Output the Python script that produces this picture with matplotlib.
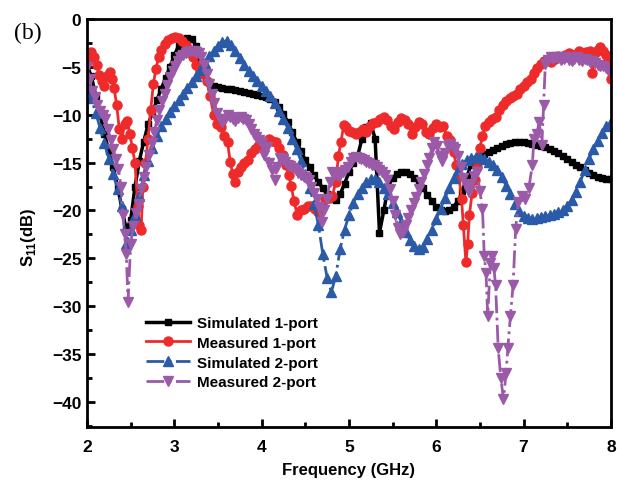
import numpy as np
import matplotlib
matplotlib.use("Agg")
import matplotlib.pyplot as plt

plt.rcParams['font.family'] = ['Liberation Sans', 'DejaVu Sans']
plt.rcParams['mathtext.fontset'] = 'custom'
plt.rcParams['mathtext.rm'] = 'Liberation Sans:bold'
plt.rcParams['mathtext.bf'] = 'Liberation Sans:bold'

# simulated curves on a 0.05 GHz grid
sim_f = np.round(np.arange(2.0, 8.0001, 0.05), 2)

sim1_db = [
    -4.8, -6.0, -8.0, -10.0, -12.0, -13.8, -15.5, -17.5, -19.8, -22.0,
    -21.0, -17.5, -14.8, -12.8, -11.0, -9.8, -8.5, -7.3, -6.2, -5.0,
    -3.8, -2.8, -2.2, -2.0, -2.1, -2.8, -4.5, -5.8, -6.6, -7.0,
    -7.1, -7.2, -7.3, -7.3, -7.4, -7.5, -7.6, -7.7, -7.8, -7.9,
    -8.0, -8.2, -8.4, -8.7, -9.2, -9.9, -10.8, -11.8, -12.8, -13.8,
    -14.7, -15.5, -16.3, -17.0, -17.7, -18.3, -18.8, -18.9, -18.3, -17.2,
    -16.0, -15.0, -14.3, -12.5, -11.3, -10.9, -12.5, -22.3, -20.0, -17.5,
    -16.6, -16.2, -16.0, -16.0, -16.2, -16.6, -17.1, -17.7, -18.4, -19.0,
    -19.6, -19.9, -20.1, -20.0, -19.6, -19.0, -18.0, -16.5, -15.2, -14.6,
    -14.3, -14.1, -13.9, -13.7, -13.5, -13.3, -13.1, -13.0, -12.9, -12.9,
    -12.9, -13.0, -13.1, -13.2, -13.3, -13.4, -13.6, -13.8, -14.0, -14.3,
    -14.6, -14.9, -15.2, -15.5, -15.8, -16.1, -16.3, -16.5, -16.6, -16.7,
    -16.7,
]

sim2_db = [
    -6.8, -8.3, -9.8, -11.4, -13.0, -14.6, -16.2, -17.8, -19.5, -23.5,
    -22.0, -20.5, -18.5, -16.3, -14.8, -13.5, -12.2, -11.2, -10.4, -9.7,
    -9.1, -8.5, -7.8, -7.2, -6.6, -6.0, -5.3, -4.6, -3.9, -3.3,
    -2.8, -2.4, -2.3, -2.7, -3.4, -4.1, -4.8, -5.4, -6.0, -6.5,
    -7.0, -7.5, -8.1, -8.8, -9.6, -10.4, -11.4, -12.5, -13.6, -14.8,
    -16.2, -17.7, -19.3, -21.5, -24.5, -27.0, -28.5, -26.8, -24.0, -22.0,
    -20.5, -19.2, -18.3, -17.6, -17.0, -16.7, -16.7, -17.0, -17.6, -18.3,
    -19.2, -20.2, -21.2, -22.2, -23.1, -23.7, -24.0, -23.8, -23.0, -22.0,
    -20.9, -19.8, -18.7, -17.6, -16.6, -15.8, -15.1, -14.7, -14.5, -14.4,
    -14.4, -14.6, -14.9, -15.3, -15.8, -16.5, -17.4, -18.3, -19.3, -20.1,
    -20.6, -20.8, -20.9, -20.8, -20.7, -20.6, -20.5, -20.4, -20.2, -19.9,
    -19.5, -18.9, -18.1, -17.0, -15.8, -14.6, -13.6, -12.7, -11.9, -11.2,
    -10.8,
]

meas1_f = [
    2.00, 2.02, 2.05, 2.08, 2.11, 2.14, 2.17, 2.20, 2.23, 2.26, 2.29, 2.31,
    2.34, 2.37, 2.40, 2.43, 2.46, 2.49, 2.52, 2.55, 2.58, 2.60, 2.62, 2.64,
    2.67, 2.70, 2.73, 2.76, 2.79, 2.82, 2.85, 2.89, 2.93, 2.97, 3.01, 3.05,
    3.09, 3.13, 3.17, 3.21, 3.25, 3.29, 3.33, 3.37, 3.41, 3.45, 3.49, 3.53,
    3.57, 3.61, 3.64, 3.67, 3.70, 3.73, 3.76, 3.80, 3.84, 3.88, 3.92, 3.96,
    4.00, 4.04, 4.08, 4.12, 4.16, 4.20, 4.24, 4.28, 4.31, 4.34, 4.37, 4.41,
    4.45, 4.49, 4.53, 4.57, 4.61, 4.65, 4.69, 4.73, 4.77, 4.81, 4.85, 4.88,
    4.91, 4.94, 4.97, 5.00, 5.04, 5.08, 5.12, 5.16, 5.20, 5.24, 5.28, 5.32,
    5.36, 5.40, 5.44, 5.48, 5.52, 5.56, 5.60, 5.64, 5.68, 5.72, 5.76, 5.80,
    5.84, 5.88, 5.92, 5.96, 6.00, 6.04, 6.08, 6.12, 6.16, 6.20, 6.23, 6.26,
    6.29, 6.31, 6.34, 6.36, 6.38, 6.41, 6.44, 6.47, 6.50, 6.53, 6.56, 6.60,
    6.64, 6.68, 6.72, 6.76, 6.80, 6.84, 6.88, 6.92, 6.96, 7.00, 7.04, 7.08,
    7.12, 7.16, 7.20, 7.24, 7.28, 7.32, 7.36, 7.40, 7.44, 7.48, 7.52, 7.56,
    7.60, 7.64, 7.68, 7.72, 7.76, 7.79, 7.82, 7.85, 7.88, 7.91, 7.94, 7.97,
    8.00,
]
meas1_db = [
    -4.5, -3.8, -3.5, -4.0, -4.8, -5.9, -6.5, -7.0, -6.0, -5.5, -6.3, -7.2,
    -9.0, -11.5, -12.5, -11.0, -10.7, -12.0, -13.5, -15.0, -19.5, -21.5, -22.0, -17.5,
    -15.0, -12.5, -9.5, -6.8, -5.2, -4.0, -3.2, -2.6, -2.2, -2.0, -1.9, -2.0,
    -2.3, -2.7, -3.3, -4.0, -4.8, -5.3, -5.8, -6.5, -8.0, -10.0, -11.0, -11.3,
    -12.2, -12.9, -14.9, -16.2, -17.0, -16.0, -15.5, -15.0, -14.7, -14.0, -13.6, -13.3,
    -13.2, -12.8, -12.5, -12.7, -12.9, -13.5, -14.2, -15.3, -16.3, -17.4, -19.0, -20.5,
    -20.0, -19.8, -19.5, -19.5, -19.8, -20.2, -19.5, -18.8, -18.7, -18.5, -17.0, -14.3,
    -12.8, -11.1, -11.3, -11.7, -11.8, -12.0, -11.8, -11.5, -11.8, -11.2, -10.9, -10.8,
    -10.5, -10.2, -10.6, -11.2, -11.5, -10.8, -10.3, -10.6, -11.0, -12.0, -11.3, -10.8,
    -11.0, -11.8, -12.0, -11.4, -11.0, -11.3, -11.2, -12.2, -12.6, -13.9, -15.3, -16.4,
    -18.8, -21.5, -25.4, -23.5, -20.5, -18.2, -16.8, -15.5, -13.5, -12.2, -11.2, -10.8,
    -10.5, -10.2, -9.5, -9.0, -8.6, -8.3, -8.1, -7.8, -7.3, -7.0, -6.6, -6.3,
    -5.6, -5.1, -4.7, -4.4, -4.3, -4.5, -4.2, -3.9, -4.0, -3.8, -3.6, -4.0,
    -3.7, -3.4, -3.6, -3.5, -3.3, -5.6, -3.6, -3.2, -2.9, -3.3, -3.8, -4.5,
    -6.3,
]

meas2_f = [
    2.00, 2.03, 2.06, 2.09, 2.12, 2.15, 2.18, 2.21, 2.24, 2.27, 2.30, 2.33,
    2.36, 2.39, 2.41, 2.43, 2.45, 2.47, 2.50, 2.53, 2.56, 2.59, 2.62, 2.65,
    2.68, 2.71, 2.74, 2.77, 2.80, 2.83, 2.86, 2.89, 2.92, 2.95, 2.98, 3.01,
    3.04, 3.07, 3.10, 3.13, 3.16, 3.19, 3.22, 3.25, 3.28, 3.31, 3.34, 3.37,
    3.40, 3.43, 3.46, 3.49, 3.52, 3.55, 3.58, 3.61, 3.64, 3.67, 3.70, 3.73,
    3.76, 3.79, 3.82, 3.85, 3.88, 3.91, 3.94, 3.97, 4.00, 4.03, 4.06, 4.09,
    4.12, 4.15, 4.18, 4.21, 4.24, 4.27, 4.30, 4.33, 4.36, 4.39, 4.42, 4.45,
    4.48, 4.51, 4.54, 4.57, 4.60, 4.63, 4.66, 4.69, 4.72, 4.75, 4.78, 4.81,
    4.84, 4.87, 4.90, 4.93, 4.96, 4.99, 5.02, 5.05, 5.08, 5.11, 5.14, 5.17,
    5.20, 5.23, 5.26, 5.29, 5.32, 5.35, 5.38, 5.41, 5.44, 5.47, 5.50, 5.53,
    5.56, 5.59, 5.62, 5.65, 5.68, 5.71, 5.74, 5.77, 5.80, 5.83, 5.86, 5.89,
    5.92, 5.95, 5.98, 6.01, 6.04, 6.07, 6.10, 6.13, 6.16, 6.19, 6.22, 6.25,
    6.28, 6.31, 6.34, 6.37, 6.40, 6.43, 6.47, 6.50, 6.53, 6.55, 6.57, 6.59,
    6.62, 6.64, 6.66, 6.68, 6.71, 6.74, 6.77, 6.80, 6.82, 6.85, 6.88, 6.91,
    6.94, 6.98, 7.02, 7.06, 7.10, 7.12, 7.15, 7.18, 7.21, 7.23, 7.25, 7.28,
    7.31, 7.34, 7.37, 7.40, 7.43, 7.46, 7.49, 7.52, 7.55, 7.58, 7.61, 7.64,
    7.67, 7.70, 7.73, 7.76, 7.79, 7.82, 7.85, 7.88, 7.91, 7.94, 7.97, 8.00,
]
meas2_db = [
    -5.0, -6.3, -7.5, -8.2, -9.0, -9.6, -10.0, -10.5, -11.5, -12.6, -13.6, -14.6,
    -15.7, -17.5, -20.5, -22.5, -24.5, -29.5, -23.5, -21.6, -20.3, -19.3, -17.8, -16.5,
    -15.5, -14.2, -13.0, -11.8, -10.6, -9.5, -8.6, -7.8, -6.9, -6.1, -5.4, -4.9,
    -4.4, -4.0, -3.8, -3.6, -3.5, -3.4, -3.4, -3.5, -3.6, -4.0, -4.8, -5.8,
    -6.8, -7.8, -8.8, -9.8, -10.5, -10.8, -10.4, -10.0, -10.2, -10.5, -10.7, -10.3,
    -10.2, -10.4, -10.6, -11.0, -11.5, -12.0, -12.3, -12.6, -13.0, -14.2, -13.4, -15.0,
    -15.8, -16.8, -15.5, -14.5, -14.6, -14.9, -15.2, -15.4, -15.6, -15.8, -16.1, -16.3,
    -16.5, -16.6, -16.8, -17.5, -18.2, -18.8, -19.6, -21.2, -20.0, -18.8, -17.0, -16.0,
    -16.2, -16.4, -16.3, -16.0, -15.8, -15.5, -14.9, -14.5, -14.4, -14.5, -14.6, -14.7,
    -14.9, -15.0, -15.2, -15.3, -15.5, -15.8, -16.0, -16.3, -16.8, -17.8, -19.0, -20.5,
    -21.8, -22.5, -22.2, -21.5, -20.8, -19.9, -19.2, -18.6, -17.8, -17.0, -16.2, -15.3,
    -14.5, -13.5, -12.9, -13.3, -14.3, -14.8, -14.0, -13.3, -13.1, -13.4, -13.6, -14.3,
    -15.5, -16.6, -17.3, -18.1, -17.2, -16.4, -16.0, -18.0, -19.8, -24.7, -26.5, -31.0,
    -25.5, -24.7, -26.0, -27.8, -34.4, -37.5, -39.7, -37.0, -34.4, -31.0, -27.8, -21.9,
    -19.1, -18.5, -18.8, -17.7, -15.3, -12.5, -12.0, -10.8, -13.2, -9.0, -4.7, -4.3,
    -4.0, -4.2, -4.0, -4.1, -4.3, -4.2, -4.0, -4.3, -4.4, -4.2, -4.0, -4.3,
    -4.4, -4.2, -4.3, -4.5, -4.4, -4.6, -4.8, -4.9, -4.9, -5.1, -5.3, -5.6,
]

fig = plt.figure(figsize=(6.17, 4.85), dpi=100)
ax = fig.add_axes([0.141, 0.1175, 0.849, 0.8415])

ax.plot(sim_f, sim1_db, color='black', lw=2.5, marker='s', ms=5,
        label='Simulated 1-port')
ax.plot(meas1_f, meas1_db, color='#ee2a2a', lw=2, marker='o', ms=6.5,
        label='Measured 1-port')
ax.plot(sim_f, sim2_db, color='#2b5ba8', lw=2, ls='-.', marker='^', ms=7,
        label='Simulated 2-port')
ax.plot(meas2_f, meas2_db, color='#9b5aa8', lw=2, ls='-.', marker='v', ms=7,
        label='Measured 2-port')

ax.set_xlim(2, 8)
ax.set_ylim(-42.6, 0)
ax.set_xticks([2, 3, 4, 5, 6, 7, 8])
ax.set_xticks(np.arange(2.5, 8, 1), minor=True)
ax.set_yticks(np.arange(-40, 1, 5))
ax.set_yticks(np.arange(-42.5, 0, 5), minor=True)
ax.tick_params(which='both', direction='in', top=False, right=False,
               width=2, labelsize=12.5)
ax.tick_params(which='major', length=6)
ax.tick_params(which='minor', length=3.5)
ax.tick_params(axis='x', which='major', pad=8.5)
ax.tick_params(axis='y', which='major', pad=4)
for lab in ax.get_xticklabels() + ax.get_yticklabels():
    lab.set_fontweight('bold')
for sp in ax.spines.values():
    sp.set_linewidth(2)

ax.set_xlabel('Frequency (GHz)', fontsize=12, fontweight='bold', labelpad=6)
ax.set_ylabel(r'S$_{11}$(dB)', fontsize=12, fontweight='bold')
ax.yaxis.set_label_coords(-0.094, 0.468)

leg = ax.legend(loc='upper left', bbox_to_anchor=(0.113, 0.272),
                frameon=False, borderpad=0, borderaxespad=0,
                handlelength=2.9, handletextpad=0.4, labelspacing=0.38,
                numpoints=1, prop={'size': 11, 'weight': 'bold'})

fig.text(0.022, 0.932, '(b)', fontsize=17, family='Liberation Serif',
         va='center')

fig.savefig('out.png', dpi=100)
